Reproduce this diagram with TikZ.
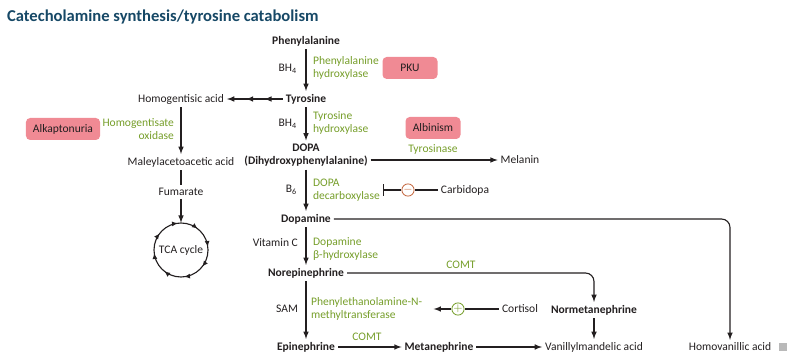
\documentclass[tikz,border=0pt]{standalone}
\usepackage{fontspec}
\setmainfont{Carlito}
\usetikzlibrary{positioning,arrows.meta,decorations.markings}
\definecolor{enzgreen}{RGB}{118,158,42}
\definecolor{titleblue}{RGB}{22,72,102}
\definecolor{diseasepink}{RGB}{240,138,148}
\definecolor{inhibred}{RGB}{196,102,62}
\definecolor{inkgray}{RGB}{35,31,32}

\begin{document}
\begin{tikzpicture}[>=latex, x=0.025cm, y=-0.025cm,
    every node/.style={font=\fontsize{8.2}{9.6}\selectfont, text=inkgray, inner sep=2pt},
    metab/.style={font=\bfseries\fontsize{8.2}{9.6}\selectfont, align=center},
    enzyme/.style={text=enzgreen, align=left, anchor=west},
    cofac/.style={anchor=east},
    disease/.style={fill=diseasepink, rounded corners=3pt, minimum width=1.375cm, minimum height=0.55cm, inner xsep=5pt},
    sign/.style={circle, draw=#1, text=#1, fill=white, line width=0.6pt, inner sep=0pt, minimum size=0.25cm},
    arr/.style={->, line width=0.8pt, draw=inkgray},
    link/.style={line width=0.8pt, draw=inkgray},
    cyc/.style={line width=0.8pt, draw=inkgray, postaction={decorate},
      decoration={markings, mark=between positions 0.02 and 1 step 0.125 with {\arrowreversed{Latex[length=4pt,width=3.6pt]}}}}]
    \useasboundingbox (0,0) rectangle (800,359);

    \node[anchor=west, font=\bfseries\fontsize{11.8}{13}\selectfont, text=titleblue] (title) at (4,17) {Catecholamine synthesis/tyrosine catabolism};

    % main pathway
    \node[metab] (phe) at (306,41) {Phenylalanine};
    \node[metab] (tyr) at (306,99) {Tyrosine};
    \node[metab] (dopa) at (306,155) {DOPA\\(Dihydroxyphenylalanine)};
    \node[metab] (dopamine) at (306,219) {Dopamine};
    \node[metab] (ne) at (306,273) {Norepinephrine};
    \node[metab] (epi) at (306,347) {Epinephrine};
    \node[metab] (meta) at (439,347) {Metanephrine};
    \node[metab] (normet) at (594,310) {Normetanephrine};
    \node (vma) at (594,347) {Vanillylmandelic acid};
    \node (hva) at (730,347) {Homovanillic acid};
    \node (mel) at (520,160) {Melanin};

    % tyrosine catabolism
    \node (hga) at (181,99) {Homogentisic acid};
    \node (maa) at (181,162) {Maleylacetoacetic acid};
    \node (fum) at (181,192) {Fumarate};
    \node[circle, minimum size=1.35cm, inner sep=0pt] (tca) at (181,250) {TCA cycle};

    % cofactors
    \node[cofac] (bh4a) at (300,69) {BH\textsubscript{4}};
    \node[cofac] (bh4b) at (300,124) {BH\textsubscript{4}};
    \node[cofac] (bsix) at (300,190) {B\textsubscript{6}};
    \node[cofac] (vitc) at (301,243) {Vitamin C};
    \node[cofac] (sam) at (301,309) {SAM};

    % enzymes
    \node[enzyme] (pah) at (310,68) {Phenylalanine\\hydroxylase};
    \node[enzyme] (th) at (310,123) {Tyrosine\\hydroxylase};
    \node[enzyme] (ddc) at (310,190) {DOPA\\decarboxylase};
    \node[enzyme] (dbh) at (310,249) {Dopamine\\β-hydroxylase};
    \node[enzyme] (pnmt) at (308,309) {Phenylethanolamine-N-\\methyltransferase};
    \node[enzyme, anchor=east, align=right] (hgo) at (177,129) {Homogentisate\\oxidase};
    \node[text=enzgreen] (tyrase) at (433,149) {Tyrosinase};
    \node[text=enzgreen] (comta) at (461,265) {COMT};
    \node[text=enzgreen] (comtb) at (367,337) {COMT};

    % diseases
    \node[disease] (pku) at (410,68) {PKU};
    \node[disease] (alk) at (63,129) {Alkaptonuria};
    \node[disease] (alb) at (433,128) {Albinism};

    % regulators
    \node (carbi) at (465,190) {Carbidopa};
    \node[sign=inhibred] (inh) at (408,190) {$-$};
    \node (cort) at (520,309) {Cortisol};
    \node[sign=enzgreen] (stim) at (458,309) {$+$};

    \node[fill=gray!55, minimum size=0.22cm, inner sep=0pt] (logo) at (783,347) {};

    \draw[arr] (phe) -- (tyr);
    \draw[arr, postaction={decorate}, decoration={markings, mark=at position 0.33 with {\arrow{>}}, mark=at position 0.66 with {\arrow{>}}}] (tyr) -- (hga);
    \draw[arr] (hga) -- (maa);
    \draw[link] (maa) -- (fum);
    \draw[arr] (fum) -- (tca);
    \draw[cyc] (tca.center) circle[radius=0.675cm];
    \draw[arr] (tyr) -- (dopa);
    \draw[arr] (dopa.east |- mel) -- (mel);
    \draw[arr] (dopa) -- (dopamine);
    \draw[arr, rounded corners=6pt] (dopamine) -| (hva);
    \draw[arr] (dopamine) -- (ne);
    \draw[arr, rounded corners=6pt] (ne) -| (normet);
    \draw[arr] (ne) -- (epi);
    \draw[arr] (epi) -- (meta);
    \draw[arr] (meta) -- (vma);
    \draw[arr] (normet) -- (vma);
    \draw[link] (carbi) -- (inh);
    \draw[link, -{Bar[width=8pt]}] (inh) -- (ddc.east);
    \draw[link] (cort) -- (stim);
    \draw[arr] (stim) -- ([xshift=6pt]pnmt.east);
\end{tikzpicture}
\end{document}
